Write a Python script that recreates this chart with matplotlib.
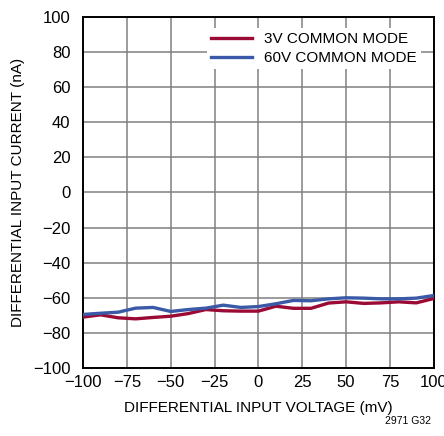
import matplotlib
matplotlib.use("Agg")
import matplotlib.pyplot as plt
import numpy as np

plt.rcParams['font.family'] = ['Liberation Sans Narrow', 'Liberation Sans', 'DejaVu Sans']

# differential input voltage (mV)
volts = [-100, -90, -80, -70, -60, -50, -40, -30, -20, -10, 0,
         10, 20, 30, 40, 50, 60, 70, 80, 90, 100]
# differential input current (nA)
cm3v = [-71, -69.7, -71.4, -72, -71.2, -70.5, -69, -66.7, -67.4, -67.6, -67.6,
        -64.8, -66, -66, -63, -62.3, -63.2, -62.9, -62.3, -62.9, -60.4]
cm60v = [-69.5, -68.8, -68.2, -65.9, -65.5, -67.8, -66.7, -65.9, -64.2, -65.5, -65,
         -63.4, -61.5, -61.7, -60.6, -60, -60.2, -60.6, -60.6, -60.2, -58.7]

xticks = [-100, -75, -50, -25, 0, 25, 50, 75, 100]
yticks = list(range(-100, 101, 20))

fig = plt.figure(figsize=(4.44, 4.36), dpi=100)
ax = fig.add_axes([0.187, 0.156, 0.790, 0.805])

ax.plot(volts, cm3v, color='#9b0a34', lw=2.4, label='3V COMMON MODE', zorder=3)
ax.plot(volts, cm60v, color='#3a5aa8', lw=2.4, label='60V COMMON MODE', zorder=3)

ax.set_xlim(-100, 100)
ax.set_ylim(-100, 100)
ax.set_xticks(xticks)
ax.set_yticks(yticks)
ax.set_xticklabels([str(t).replace('-', '\u2212') for t in xticks])
ax.set_yticklabels([str(t).replace('-', '\u2212') for t in yticks])
ax.tick_params(axis='y', length=0, labelsize=12, pad=9)
ax.tick_params(axis='x', length=0, labelsize=12, pad=5)
ax.grid(True, color='#808080', lw=1.1)
for s in ax.spines.values():
    s.set_linewidth(1.4)
    s.set_color('black')

ax.set_xlabel('DIFFERENTIAL INPUT VOLTAGE (mV)', fontsize=11, labelpad=8)
ax.set_ylabel('DIFFERENTIAL INPUT CURRENT (nA)', fontsize=11, labelpad=6)

leg = ax.legend(loc='upper right', fontsize=11, frameon=True, fancybox=False,
                edgecolor='none', framealpha=1, borderpad=0.25, labelspacing=0.35,
                handlelength=2.7, handletextpad=0.8, bbox_to_anchor=(0.985, 0.99))
leg.set_zorder(5)

fig.text(0.97, 0.035, '2971 G32', fontsize=7.5, ha='right', va='center')

fig.savefig('out.png', dpi=100)
